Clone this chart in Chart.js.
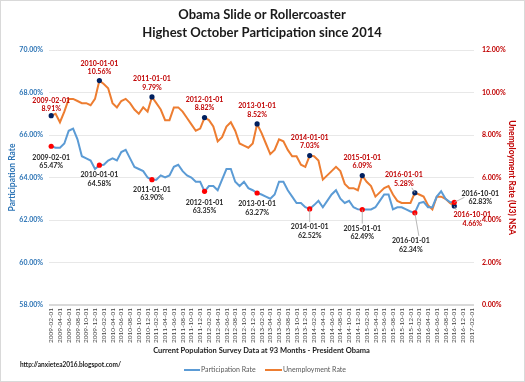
<!DOCTYPE html>
<html>
<head>
<meta charset="utf-8">
<script src="https://cdn.jsdelivr.net/npm/chart.js@4/dist/chart.umd.min.js"></script>
<style>
html, body { margin: 0; padding: 0; background: #fff; }
#wrap { width: 525px; height: 382px; }
</style>
</head>
<body>
<div id="wrap"><canvas id="chart" width="525" height="382"></canvas></div>
<script>
// categories: monthly, 2009-02-01 .. 2017-02-01
var months = [];
for (var y = 2009; y <= 2017; y++) {
    for (var m = 1; m <= 12; m++) {
        if (y == 2009 && m < 2) continue;
        if (y == 2017 && m > 2) continue;
        months.push(y + '-' + (m < 10 ? '0' + m : m) + '-01');
    }
}

// Participation Rate, 2009-02 .. 2016-10
var participation = [
    65.47, 65.4, 65.4, 65.6, 66.2, 66.3, 65.8, 65.0, 64.9, 64.8, 64.4,
    64.58, 64.6, 64.8, 64.9, 64.8, 65.2, 65.3, 64.9, 64.5, 64.4, 64.3, 64.0,
    63.90, 63.9, 64.1, 64.0, 64.1, 64.5, 64.6, 64.3, 64.1, 64.0, 63.8, 63.8,
    63.35, 63.6, 63.6, 63.4, 63.9, 64.4, 64.4, 63.8, 63.6, 63.8, 63.5, 63.4,
    63.27, 63.2, 63.1, 63.0, 63.2, 63.8, 63.8, 63.4, 63.1, 62.8, 62.8, 62.6,
    62.52, 62.7, 62.9, 62.6, 62.9, 63.2, 63.4, 63.0, 62.8, 62.9, 62.6, 62.5,
    62.49, 62.5, 62.5, 62.6, 62.9, 63.2, 63.2, 62.5, 62.6, 62.6, 62.5, 62.4,
    62.34, 62.8, 62.85, 62.6, 62.6, 63.1, 63.35, 63.0, 62.85, 62.83
];

// Unemployment Rate (U3) NSA, 2009-02 .. 2016-10
var unemployment = [
    8.91, 9.0, 8.6, 9.1, 9.7, 9.7, 9.6, 9.5, 9.5, 9.4, 9.7,
    10.56, 10.4, 10.2, 9.5, 9.3, 9.6, 9.7, 9.5, 9.2, 9.0, 9.3, 9.1,
    9.79, 9.5, 9.2, 8.7, 8.7, 9.3, 9.3, 9.1, 8.8, 8.5, 8.2, 8.3,
    8.82, 8.7, 8.4, 7.7, 7.9, 8.4, 8.6, 8.2, 7.6, 7.5, 7.4, 7.6,
    8.52, 8.1, 7.6, 7.1, 7.3, 7.8, 7.7, 7.3, 7.0, 7.0, 6.6, 6.5,
    7.03, 7.0, 6.8, 5.9, 6.1, 6.3, 6.5, 6.3, 5.7, 5.5, 5.5, 5.4,
    6.09, 5.8, 5.6, 5.1, 5.3, 5.5, 5.6, 5.2, 4.9, 4.8, 4.8, 4.8,
    5.28, 5.2, 5.1, 4.7, 4.5, 5.1, 5.1, 5.0, 4.8, 4.66
];

var leftTicks = [58, 60, 62, 64, 66, 68, 70];
var rightTicks = [0, 2, 4, 6, 8, 10, 12];

// labelled points
var markDates = ['2009-02-01', '2010-01-01', '2011-01-01', '2012-01-01', '2013-01-01',
                 '2014-01-01', '2015-01-01', '2016-01-01', '2016-10-01'];
// label placement: [dx, dy, leader line]
var unempPlace = [[0, -15, 0], [0, -17, 0], [0, -18, 0], [0, -18, 0], [0, -18, 0],
                  [0, -18, 0], [0, -18, 0], [-11, -18, 1], [18, 9, 1]];
var partPlace = [[0, 11, 0], [0, 10, 0], [0, 10, 0], [0, 11, 0], [0, 11, 0],
                 [0, 18, 1], [0, 19, 1], [-4, 28, 1], [26, -9, 1]];

var markIdx = markDates.map(function (d) { return months.indexOf(d); });

var FONT = 'Lato, "Open Sans", sans-serif';
Chart.defaults.font.family = FONT;

var blue = '#5b9bd5';
var orange = '#ed7d31';
var navy = '#002060';
var red = '#c00000';

function markRadius(ctx) {
    return markIdx.indexOf(ctx.dataIndex) >= 0 ? 2.6 : 0;
}

var annotate = {
    id: 'annotate',
    afterDatasetsDraw: function (chart) {
        var c = chart.ctx;
        c.save();
        c.textAlign = 'center';
        c.textBaseline = 'middle';
        c.font = 'bold 7px ' + FONT;
        function put(meta, place, color, values, i) {
            var p = meta.data[markIdx[i]];
            var pl = place[i];
            var tx = p.x + pl[0], ty = p.y + pl[1];
            if (pl[2]) {
                c.strokeStyle = '#a6a6a6';
                c.lineWidth = 0.8;
                c.beginPath();
                c.moveTo(p.x, p.y);
                var ey = pl[1] > 0 ? ty - 5 : ty + 13;
                var ex = pl[0] > 10 ? tx - 16 : (pl[0] < 0 ? tx + 8 : tx);
                if (pl[0] > 10 && pl[1] < 0) { ey = ty + 4; }
                c.lineTo(ex, ey);
                c.stroke();
            }
            c.fillStyle = color;
            c.fillText(markDates[i], tx, ty);
            c.fillText(values[markIdx[i]].toFixed(2) + '%', tx, ty + 8.5);
        }
        var mp = chart.getDatasetMeta(0), mu = chart.getDatasetMeta(1);
        for (var i = 0; i < markDates.length; i++) {
            put(mu, unempPlace, red, unemployment, i);
            put(mp, partPlace, '#262626', participation, i);
        }
        c.restore();
    },
    afterDraw: function (chart) {
        var c = chart.ctx;
        c.save();
        // frame
        c.strokeStyle = '#d9d9d9';
        c.lineWidth = 1;
        c.strokeRect(0.5, 0.5, 524, 381);
        // title
        c.fillStyle = '#1a1a1a';
        c.textAlign = 'center';
        c.textBaseline = 'middle';
        c.font = 'bold 13px ' + FONT;
        c.fillText('Obama Slide or Rollercoaster', 262, 15);
        c.fillText('Highest October Participation since 2014', 262, 33);
        // source url
        c.textAlign = 'left';
        c.font = 'bold 6.5px ' + FONT;
        c.fillStyle = '#1a1a1a';
        c.fillText('http://anxietea2016.blogspot.com/', 20, 365);
        // legend
        c.font = '7px ' + FONT;
        c.fillStyle = '#595959';
        c.lineWidth = 2;
        c.strokeStyle = blue;
        c.beginPath(); c.moveTo(184, 370); c.lineTo(200, 370); c.stroke();
        c.fillText('Participation Rate', 201, 370);
        c.strokeStyle = orange;
        c.beginPath(); c.moveTo(265, 370); c.lineTo(282, 370); c.stroke();
        c.fillText('Unemployment Rate', 283, 370);
        c.restore();
    }
};

new Chart(document.getElementById('chart'), {
    type: 'line',
    data: {
        labels: months,
        datasets: [{
            label: 'Participation Rate',
            data: participation,
            yAxisID: 'yL',
            borderColor: blue,
            borderWidth: 2,
            pointRadius: markRadius,
            pointBackgroundColor: '#ff0000',
            pointBorderWidth: 0,
            tension: 0
        }, {
            label: 'Unemployment Rate',
            data: unemployment,
            yAxisID: 'yR',
            borderColor: orange,
            borderWidth: 2,
            pointRadius: markRadius,
            pointBackgroundColor: navy,
            pointBorderWidth: 0,
            tension: 0
        }]
    },
    options: {
        responsive: false,
        animation: false,
        layout: { padding: { top: 50, bottom: 27, left: 0, right: 0 } },
        plugins: {
            legend: { display: false },
            title: { display: false },
            tooltip: { enabled: false }
        },
        scales: {
            x: {
                offset: true,
                grid: { display: false, drawTicks: false },
                border: { display: false },
                afterFit: function (s) { s.height = 50; },
                ticks: {
                    autoSkip: false,
                    maxRotation: 90,
                    minRotation: 90,
                    padding: 3,
                    color: '#404040',
                    font: { size: 6.5 },
                    callback: function (v, i) { return i % 2 === 0 ? months[i] : ''; }
                },
                title: {
                    display: true,
                    text: 'Current Population Survey Data at 93 Months - President Obama',
                    color: '#1a1a1a',
                    font: { size: 7.5, weight: 'bold' },
                    padding: { top: 0, bottom: 0 }
                }
            },
            yL: {
                position: 'left',
                min: leftTicks[0],
                max: leftTicks[leftTicks.length - 1],
                afterFit: function (s) { s.width = 49; },
                afterBuildTicks: function (s) { s.ticks = leftTicks.map(function (v) { return { value: v }; }); },
                border: { display: false },
                grid: {
                    drawTicks: false,
                    color: function (ctx) { return ctx.tick && ctx.tick.value === 58 ? '#d9d9d9' : '#e8e8e8'; },
                    lineWidth: function (ctx) { return ctx.tick && ctx.tick.value === 58 ? 2 : 1; }
                },
                ticks: {
                    padding: 6,
                    color: '#2e75b6',
                    font: { size: 7, weight: 'bold' },
                    callback: function (v) { return v.toFixed(2) + '%'; }
                },
                title: {
                    display: true,
                    text: 'Participation Rate',
                    color: '#2e75b6',
                    font: { size: 8.5, weight: 'bold' },
                    padding: { top: 7, bottom: 0 }
                }
            },
            yR: {
                position: 'right',
                min: rightTicks[0],
                max: rightTicks[rightTicks.length - 1],
                afterFit: function (s) { s.width = 51; },
                afterBuildTicks: function (s) { s.ticks = rightTicks.map(function (v) { return { value: v }; }); },
                border: { display: false },
                grid: { display: false, drawTicks: false },
                ticks: {
                    padding: 8,
                    color: red,
                    font: { size: 7, weight: 'bold' },
                    callback: function (v) { return v.toFixed(2) + '%'; }
                },
                title: {
                    display: true,
                    text: 'Unemployment Rate (U3) NSA',
                    color: red,
                    font: { size: 8.5, weight: 'bold' },
                    padding: { top: 8, bottom: 0 }
                }
            }
        }
    },
    plugins: [annotate]
});
</script>
</body>
</html>
